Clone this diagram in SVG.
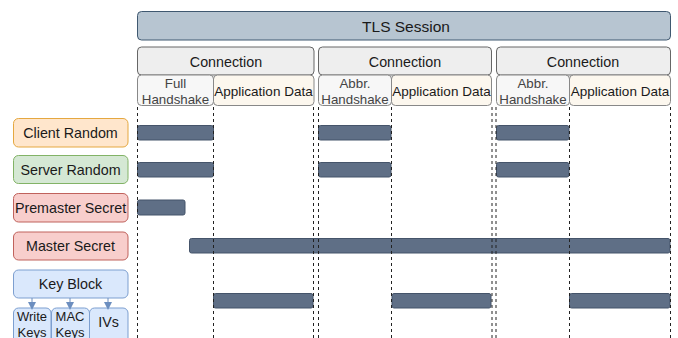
<svg xmlns="http://www.w3.org/2000/svg" width="678" height="338" viewBox="0 0 678 338">
<defs>
<style>
text{font-family:"Liberation Sans",Arial,sans-serif;fill:#1a1a1a;text-anchor:middle;dominant-baseline:central}
.sess{fill:#b7c5d1;stroke:#3f5870;stroke-width:1}
.conn{fill:#eeeeee;stroke:#666;stroke-width:1}
.hs{fill:#f7f7f7;stroke:#888;stroke-width:1}
.app{fill:#fcf7ee;stroke:#888;stroke-width:1}
.orange{fill:#ffe6cc;stroke:#e5a840;stroke-width:1}
.green{fill:#d5e8d4;stroke:#82b366;stroke-width:1}
.red{fill:#f8cecc;stroke:#c0625c;stroke-width:1}
.blue{fill:#dae8fc;stroke:#7d9fd0;stroke-width:1}
.bar{fill:#5f6f86;stroke:#45546a;stroke-width:1}
.dash{stroke:#222;stroke-width:1;stroke-dasharray:3 3;fill:none}
.arr{stroke:#6c8ebf;stroke-width:1;fill:none}
.t15{font-size:15.5px}
.t14{font-size:14.3px}
.t13{font-size:13.5px}
.tk{font-size:13px}
.t12{font-size:13.3px;fill:#444}
</style>
<marker id="ah" markerWidth="8" markerHeight="8" refX="4" refY="4" orient="auto" markerUnits="userSpaceOnUse"><path d="M0,0 L8,4 L0,8 Z" fill="#6c8ebf"/></marker>
</defs>

<g id="session"><rect class="sess" x="137.5" y="11.5" width="533" height="28.5" rx="4"/><text class="t15" x="406" y="26">TLS Session</text></g>

<g id="conn1"><rect class="conn" x="137.5" y="47" width="176.5" height="28" rx="4"/><text class="t14" x="226" y="61.5">Connection</text></g>
<g id="conn2"><rect class="conn" x="318.5" y="47" width="173" height="28" rx="4"/><text class="t14" x="405" y="61.5">Connection</text></g>
<g id="conn3"><rect class="conn" x="496.5" y="47" width="174" height="28" rx="4"/><text class="t14" x="583" y="61.5">Connection</text></g>

<g id="hs1"><rect class="hs" x="137.5" y="75" width="76" height="30.5" rx="4"/><text class="t12" x="175.5" y="83">Full</text><text class="t12" x="175.5" y="99.5">Handshake</text></g>
<g id="app1"><rect class="app" x="213.5" y="75" width="100.5" height="30.5" rx="4"/><text class="t13" x="263.5" y="91">Application Data</text></g>
<g id="hs2"><rect class="hs" x="318.5" y="75" width="73" height="30.5" rx="4"/><text class="t12" x="355" y="83">Abbr.</text><text class="t12" x="355" y="99.5">Handshake</text></g>
<g id="app2"><rect class="app" x="391.5" y="75" width="100" height="30.5" rx="4"/><text class="t13" x="441.5" y="91">Application Data</text></g>
<g id="hs3"><rect class="hs" x="496.5" y="75" width="73" height="30.5" rx="4"/><text class="t12" x="533" y="83">Abbr.</text><text class="t12" x="533" y="99.5">Handshake</text></g>
<g id="app3"><rect class="app" x="569.5" y="75" width="101" height="30.5" rx="4"/><text class="t13" x="620" y="91">Application Data</text></g>

<g id="clientRandom"><rect class="orange" x="13.5" y="118.5" width="114.5" height="28.5" rx="5"/><text class="t14" x="70.5" y="133">Client Random</text></g>
<g id="serverRandom"><rect class="green" x="13.5" y="155.5" width="114.5" height="28" rx="5"/><text class="t14" x="70.5" y="169.5">Server Random</text></g>
<g id="premaster"><rect class="red" x="13.5" y="193.5" width="114.5" height="28.5" rx="5"/><text class="t14" x="70.5" y="208">Premaster Secret</text></g>
<g id="master"><rect class="red" x="13.5" y="232" width="114.5" height="28" rx="5"/><text class="t14" x="70.5" y="246">Master Secret</text></g>
<g id="keyBlock"><rect class="blue" x="13.5" y="270" width="114.5" height="28" rx="5"/><text class="t14" x="70.5" y="284">Key Block</text></g>
<g id="writeKeys"><rect class="blue" x="13.5" y="308" width="37.5" height="40" rx="5"/><text class="tk" x="32" y="316">Write</text><text class="tk" x="32" y="332">Keys</text></g>
<g id="macKeys"><rect class="blue" x="51.5" y="308" width="38" height="40" rx="5"/><text class="tk" x="70" y="316">MAC</text><text class="tk" x="70" y="332">Keys</text></g>
<g id="ivs"><rect class="blue" x="89.5" y="308" width="38.5" height="40" rx="5"/><text class="t14" x="108.5" y="322">IVs</text></g>

<g id="bars">
<rect class="bar" x="137.5" y="125.5" width="76" height="14.5" rx="2"/>
<rect class="bar" x="318.5" y="125.5" width="72.5" height="14.5" rx="2"/>
<rect class="bar" x="496.5" y="125.5" width="72.5" height="14.5" rx="2"/>
<rect class="bar" x="137.5" y="162.5" width="76" height="14.5" rx="2"/>
<rect class="bar" x="318.5" y="162.5" width="72.5" height="14.5" rx="2"/>
<rect class="bar" x="496.5" y="162.5" width="72.5" height="14.5" rx="2"/>
<rect class="bar" x="137.5" y="200" width="47.5" height="15" rx="2"/>
<rect class="bar" x="189.5" y="238.5" width="480.5" height="14.5" rx="2"/>
<rect class="bar" x="213.5" y="293.5" width="99.5" height="14.5" rx="2"/>
<rect class="bar" x="392" y="293.5" width="99" height="14.5" rx="2"/>
<rect class="bar" x="569.5" y="293.5" width="100.5" height="14.5" rx="2"/>
</g>

<g id="connectors">
<path class="arr" d="M32,298 V306" marker-end="url(#ah)"/>
<path class="arr" d="M70,298 V306" marker-end="url(#ah)"/>
<path class="arr" d="M108,298 V306" marker-end="url(#ah)"/>
<path class="dash" d="M137.5,107 V338 M213.5,107 V338 M313.5,107 V338 M318.5,107 V338 M391.5,107 V338 M492,107 V338 M496,107 V338 M569.5,107 V338 M670.5,107 V338"/>
</g>
</svg>
